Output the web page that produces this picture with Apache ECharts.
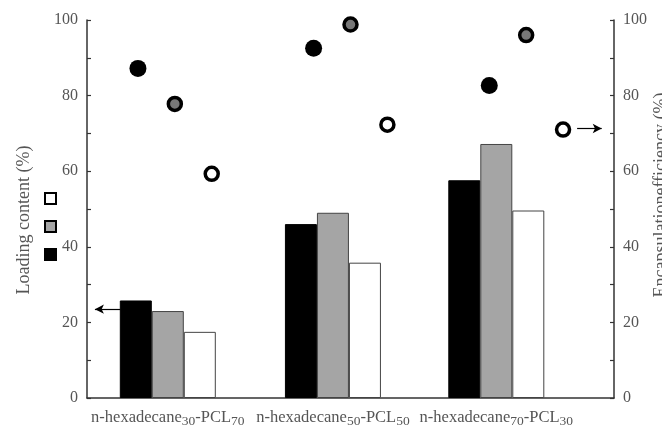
<!DOCTYPE html>
<html>
<head>
<meta charset="utf-8">
<script src="https://cdn.jsdelivr.net/npm/echarts@6/dist/echarts.min.js"></script>
<style>
  html, body { margin: 0; padding: 0; background: #fff; }
  #main { width: 662px; height: 427px; }
</style>
</head>
<body>
<div id="main"></div>
<script>
// samples: n-hexadecane(x)-PCL(y)
var samples = [['30', '70'], ['50', '50'], ['70', '30']];
// bar group positions on the x axis (groups sit a bit left of the category centres)
var barX = [0.96, 1.9, 2.83];
// loading content (%) - left axis
var loadBlack = [25.8, 46.0, 57.6];
var loadGray = [23.0, 49.0, 67.2];
var loadWhite = [17.5, 35.8, 49.6];
// encapsulation efficiency (%) - right axis
var catX = [1, 2, 3];
var pointOffset = [-0.21, 0, 0.21];
var effBlack = [87.2, 92.5, 82.7];
var effGray = [77.8, 98.8, 96.0];
var effWhite = [59.3, 72.3, 71.0];
var yTicks = [0, 20, 40, 60, 80, 100];

var font = 'Liberation Serif';
var myChart = echarts.init(document.getElementById('main'));

function bars(vals) {
    return vals.map(function (v, i) { return [barX[i], v]; });
}
function points(vals, k) {
    return vals.map(function (v, i) { return [catX[i] + pointOffset[k], v]; });
}
function yLabel(v) {
    return yTicks.indexOf(v) >= 0 ? String(v) : '';
}
// arrow that tells which axis a series belongs to
function arrow(from, to) {
    return {
        silent: true,
        symbol: ['none', 'arrow'],
        symbolSize: [7, 9],
        label: { show: false },
        lineStyle: { color: '#000', width: 1.2, type: 'solid' },
        data: [[{ coord: from }, { coord: to }]]
    };
}

var yAxisBase = {
    type: 'value',
    min: 0,
    max: 100,
    interval: 10,
    nameLocation: 'middle',
    nameRotate: 90,
    axisLine: { show: true, lineStyle: { color: '#333', width: 1.5 } },
    axisTick: { show: true, inside: true, length: 4, lineStyle: { color: '#333', width: 1.2 } },
    axisLabel: { formatter: yLabel, fontFamily: font, fontSize: 16, color: '#555', margin: 9 },
    splitLine: { show: false }
};

var option = {
    animation: false,
    backgroundColor: '#fff',
    grid: { left: 87, right: 48, top: 20, bottom: 29, outerBoundsMode: 'none', containLabel: false },
    legend: {
        data: ['white', 'gray', 'black'],
        orient: 'vertical',
        left: 39,
        top: 187,
        itemWidth: 11,
        itemHeight: 11,
        itemGap: 15,
        icon: 'rect',
        formatter: function () { return ''; },
        itemStyle: { borderColor: '#000', borderWidth: 2 },
        selectedMode: false
    },
    xAxis: {
        type: 'value',
        min: 0.5,
        max: 3.5,
        axisLine: { show: true, lineStyle: { color: '#333', width: 1.5 } },
        axisTick: { show: false },
        splitLine: { show: false },
        axisLabel: {
            customValues: barX,
            margin: 9,
            formatter: function (v) {
                var i = 0;
                for (var k = 0; k < barX.length; k++) {
                    if (Math.abs(barX[k] - v) < 0.01) i = k;
                }
                return '{n|n-hexadecane}{s|' + samples[i][0] + '}{n|-PCL}{s|' + samples[i][1] + '}';
            },
            rich: {
                n: { fontFamily: font, fontSize: 16.5, color: '#555' },
                s: { fontFamily: font, fontSize: 13.5, color: '#555', padding: [7, 0, 0, 0] }
            }
        }
    },
    yAxis: [
        Object.assign({}, yAxisBase, {
            position: 'left', name: 'Loading content (%)', nameGap: 54,
            nameTextStyle: { fontFamily: font, fontSize: 18, color: '#555', padding: [0, 22, 0, 0] }
        }),
        Object.assign({}, yAxisBase, {
            position: 'right', name: 'Encapsulationefficiency (%)', nameGap: 38,
            nameMoveOverlap: false,
            nameTextStyle: { fontFamily: font, fontSize: 18, color: '#555', padding: [0, 0, 0, 28] }
        })
    ],
    series: [
        {
            name: 'black', type: 'bar', yAxisIndex: 0, barWidth: 32, barGap: '0%',
            itemStyle: { color: '#000', borderColor: '#000', borderWidth: 1 },
            data: bars(loadBlack)
        },
        {
            name: 'gray', type: 'bar', yAxisIndex: 0, barWidth: 32, barGap: '0%',
            itemStyle: { color: '#a5a5a5', borderColor: '#444', borderWidth: 1 },
            data: bars(loadGray)
        },
        {
            name: 'white', type: 'bar', yAxisIndex: 0, barWidth: 32, barGap: '0%',
            itemStyle: { color: '#fff', borderColor: '#444', borderWidth: 1 },
            data: bars(loadWhite)
        },
        {
            name: 'effBlack', type: 'scatter', yAxisIndex: 1, symbol: 'circle', symbolSize: 17,
            itemStyle: { color: '#000', opacity: 1 },
            data: points(effBlack, 0),
            markLine: arrow([0.69, 23.5], [0.545, 23.5])
        },
        {
            name: 'effGray', type: 'scatter', yAxisIndex: 1, symbol: 'circle', symbolSize: 13,
            itemStyle: { color: '#777', borderColor: '#000', borderWidth: 3.5, opacity: 1 },
            data: points(effGray, 1)
        },
        {
            name: 'effWhite', type: 'scatter', yAxisIndex: 1, symbol: 'circle', symbolSize: 13,
            itemStyle: { color: '#fff', borderColor: '#000', borderWidth: 3.5, opacity: 1 },
            data: points(effWhite, 2),
            markLine: arrow([3.29, 71.3], [3.43, 71.3])
        }
    ]
};

myChart.setOption(option);
</script>
</body>
</html>
